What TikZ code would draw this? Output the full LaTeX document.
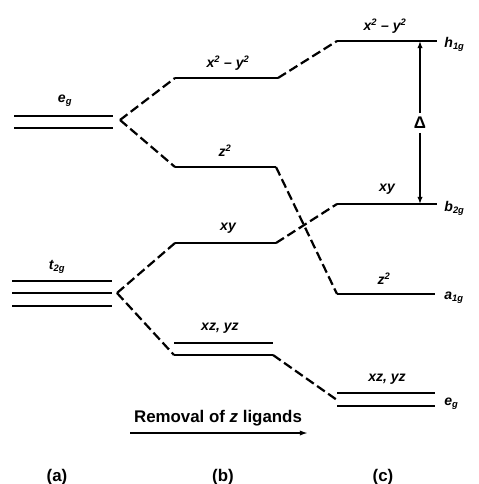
\documentclass[tikz,border=0pt]{standalone}
\usepackage{fontspec}
\setmainfont{Liberation Sans}
\usetikzlibrary{arrows.meta, positioning}

\begin{document}
\begin{tikzpicture}[
    x=0.03cm, y=-0.03cm,
    level/.style={line width=2.2pt},
    link/.style={line width=1.9pt, dash pattern=on 8pt off 3.5pt},
    orb/.style={font=\large\bfseries\itshape, inner sep=1pt},
    sym/.style={font=\large\bfseries\itshape, anchor=west, inner sep=1pt},
    colname/.style={font=\Large\bfseries}
]
\useasboundingbox (0,0) rectangle (478,484);

% Column (a)
\draw[level] (14,116) -- (113,116);
\draw[level] (14,128) -- (113,128);
\node (eg) [orb] at (65,101) {e\textsubscript{g}};
\coordinate (splitE) at (120,120);

\draw[level] (12,281) -- (112,281);
\draw[level] (12,293) -- (112,293);
\draw[level] (12,306) -- (112,306);
\node (tg) [orb] at (57,267) {t\textsubscript{2g}};
\coordinate (splitT) at (117,293);

% Column (b)
\draw[level] (175,78) -- (278,78) coordinate (bA);
\coordinate (bAl) at (175,78);
\node (bAlab) [orb] at (228,63) {x\textsuperscript{2} -- y\textsuperscript{2}};

\draw[level] (175,167) -- (276,167) coordinate (bB);
\coordinate (bBl) at (175,167);
\node (bBlab) [orb] at (225,151) {z\textsuperscript{2}};

\draw[level] (175,243) -- (276,243) coordinate (bC);
\coordinate (bCl) at (175,243);
\node (bClab) [orb] at (228,228) {xy};

\draw[level] (174,343) -- (273,343);
\draw[level] (174,355) -- (273,355) coordinate (bD);
\coordinate (bDl) at (174,355);
\node (bDlab) [orb] at (220,328) {xz, yz};

% Column (c)
\draw[level] (337,41) -- (437,41);
\coordinate (cAl) at (337,41);
\node (cAlab) [orb] at (385,26) {x\textsuperscript{2} -- y\textsuperscript{2}};
\node (h1g) [sym] at (443,44) {h\textsubscript{1g}};

\draw[level] (337,204) -- (437,204);
\coordinate (cBl) at (337,204);
\node (cBlab) [orb] at (387,189) {xy};
\node (b2g) [sym] at (443,208) {b\textsubscript{2g}};

\draw[level] (337,294) -- (435,294);
\coordinate (cCl) at (337,294);
\node (cClab) [orb] at (384,279) {z\textsuperscript{2}};
\node (a1g) [sym] at (443,298) {a\textsubscript{1g}};

\draw[level] (337,393) -- (435,393);
\draw[level] (337,406) -- (435,406);
\coordinate (cDl) at (337,400);
\node (cDlab) [orb] at (387,379) {xz, yz};
\node (egc) [sym] at (443,404) {e\textsubscript{g}};

% Correlation lines
\draw[link] (splitE) -- (bAl);
\draw[link] (splitE) -- (bBl);
\draw[link] (splitT) -- (bCl);
\draw[link] (splitT) -- (bDl);
\draw[link] (bA) -- (cAl);
\draw[link] (bB) -- (cCl);
\draw[link] (bC) -- (cBl);
\draw[link] (bD) -- (cDl);

% Splitting
\node (delta) [font=\Large\bfseries] at (420,123) {Δ};
\coordinate (dTop) at (420,41);
\coordinate (dBot) at (420,204);
\draw[line width=1.8pt, -{Latex[length=6pt,width=4.5pt]}] (delta) -- (dTop);
\draw[line width=1.8pt, -{Latex[length=6pt,width=4.5pt]}] (delta) -- (dBot);

% Removal arrow
\node (rem) [font=\Large\bfseries] at (218,418) {Removal of \textit{z} ligands};
\coordinate (remL) at (130,433);
\coordinate (remR) at (308,433);
\draw[line width=1.6pt, -{Latex[length=7pt,width=4.5pt]}] (remL) -- (remR);

% Column names
\node (na) [colname] at (57,477) {(a)};
\node (nb) [colname] at (223,477) {(b)};
\node (nc) [colname] at (383,477) {(c)};

\end{tikzpicture}
\end{document}
